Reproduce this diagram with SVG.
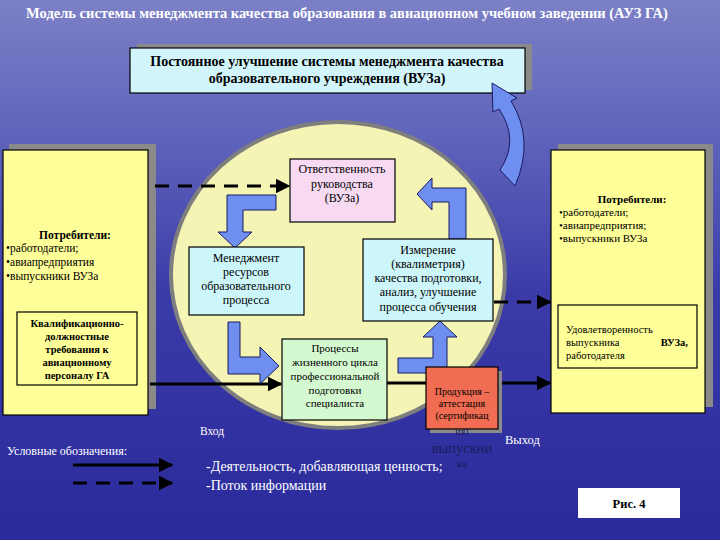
<svg xmlns="http://www.w3.org/2000/svg" width="720" height="540" viewBox="0 0 720 540" font-family="'Liberation Serif', 'DejaVu Serif', serif">
<defs>
<linearGradient id="bg" x1="0" y1="0" x2="0" y2="1">
<stop offset="0" stop-color="#7c80c6"/>
<stop offset="0.25" stop-color="#6064bb"/>
<stop offset="0.55" stop-color="#3a3aa8"/>
<stop offset="1" stop-color="#2a2a9c"/>
</linearGradient>
<marker id="ah" viewBox="0 0 10 10" refX="9" refY="5" markerWidth="5" markerHeight="5" orient="auto">
<path d="M0,0 L10,5 L0,10 z" fill="#000"/>
</marker>
<style>
text{font-family:'Liberation Serif','DejaVu Serif',serif;fill:#000}
.w{fill:#fff}
.b{font-weight:bold}
.box{stroke:#000;stroke-width:1.2}
.sh{fill:#8a8a8a}
.ba{fill:#6f8ff0;stroke:#1a1a60;stroke-width:1}
.c{text-anchor:middle}
.flow{stroke:#000;stroke-width:3;fill:none}
.info{stroke:#000;stroke-width:3;fill:none;stroke-dasharray:14 9}
.dk{fill:#1c1c5c}
</style>
</defs>
<rect width="720" height="540" fill="url(#bg)"/>
<text id="title" x="347" y="18" class="w c" font-size="14.5" font-weight="bold">Модель системы менеджмента качества образования в авиационном учебном заведении (АУЗ ГА)</text>

<g id="top-box">
<rect class="sh" x="137" y="44" width="395" height="46"/>
<rect class="box" x="130" y="48" width="395" height="45" fill="#d2f5fb"/>
<text x="327" y="66" class="c b" font-size="14">Постоянное улучшение системы менеджмента качества</text>
<text x="327" y="83" class="c b" font-size="14">образовательного учреждения (ВУЗа)</text>
</g>

<g id="left-box">
<rect class="sh" x="9" y="144" width="147" height="265"/>
<rect class="box" x="3" y="150" width="145" height="265" fill="#ffff99"/>
<text x="75" y="239" class="c b" font-size="11.5">Потребители:</text>
<text x="6" y="252" font-size="11.5">•работодатели;</text>
<text x="6" y="266" font-size="11.5">•авиапредприятия</text>
<text x="6" y="280" font-size="11.5">•выпускники ВУЗа</text>
<rect class="box" x="17" y="312" width="120" height="73" fill="#ffff99"/>
<text x="77" y="327" class="c b" font-size="10.5">Квалификационно-</text>
<text x="77" y="340" class="c b" font-size="10.5">должностные</text>
<text x="77" y="353" class="c b" font-size="10.5">требования к</text>
<text x="77" y="366" class="c b" font-size="10.5">авиационному</text>
<text x="77" y="379" class="c b" font-size="10.5">персоналу ГА</text>
</g>

<g id="right-box">
<rect class="sh" x="558" y="144" width="155" height="263"/>
<rect class="box" x="551" y="150" width="154" height="263" fill="#ffff99"/>
<text x="632" y="203" class="c b" font-size="11">Потребители:</text>
<text x="559" y="216" font-size="11">•работодатели;</text>
<text x="559" y="229" font-size="11">•авиапредприятия;</text>
<text x="559" y="242" font-size="11">•выпускники ВУЗа</text>
<rect class="box" x="558" y="305" width="139" height="63" fill="#ffff99"/>
<text x="566" y="333" font-size="10.5">Удовлетворенность</text>
<text x="566" y="346" font-size="10.5">выпускника</text>
<text x="688" y="346" font-size="10.5" text-anchor="end" font-weight="bold">ВУЗа,</text>
<text x="566" y="359" font-size="10.5">работодателя</text>
</g>

<g id="circle">
<ellipse cx="338" cy="275" rx="167" ry="153" fill="#f4f4b4" stroke="#7e7e7e" stroke-width="4"/>
</g>

<g id="connectors">
<line class="info" x1="155" y1="186" x2="289" y2="186" marker-end="url(#ah)"/>
<line class="flow" x1="150" y1="384" x2="281" y2="384" marker-end="url(#ah)"/>
<line class="flow" x1="387" y1="383" x2="426" y2="383"/>
<line class="flow" x1="498" y1="383" x2="550" y2="383" marker-end="url(#ah)"/>
<line class="info" x1="494" y1="302" x2="550" y2="302" marker-end="url(#ah)"/>
<line class="flow" x1="73" y1="465" x2="172" y2="465" marker-end="url(#ah)"/>
<line class="info" x1="73" y1="483" x2="172" y2="483" marker-end="url(#ah)"/>
<polygon class="ba" points="276,195 227,195 227,232 218,232 235,248 252,232 243,232 243,210 276,210"/>
<polygon class="ba" points="228,322 240,322 240,357 260,357 260,347 279,366 260,384 260,374 228,374"/>
<polygon class="ba" points="398,358 433,358 433,337 423,337 440,321 457,337 447,337 447,373 398,373"/>
<polygon class="ba" points="417,194 432,178 432,188 466,188 466,239 449,239 449,202 432,202 432,210"/>
<path class="ba" d="M 515,186 Q 535,140 511,101 L 517,98 L 492,83 L 493,112 L 499,109 Q 520,140 500,170 Z"/>
</g>

<g id="responsibility">
<rect class="box" x="290" y="159" width="105" height="63" fill="#f7d9f2"/>
<text x="342" y="173" class="c" font-size="12">Ответственность</text>
<text x="342" y="188" class="c" font-size="12">руководства</text>
<text x="342" y="202" class="c" font-size="12">(ВУЗа)</text>
</g>

<g id="resources">
<rect class="box" x="189" y="247" width="115" height="68" fill="#cdf6fb"/>
<text x="246" y="262" class="c" font-size="12">Менеджмент</text>
<text x="246" y="276" class="c" font-size="12">ресурсов</text>
<text x="246" y="290" class="c" font-size="12">образовательного</text>
<text x="246" y="304" class="c" font-size="12">процесса</text>
</g>

<g id="measurement">
<rect class="box" x="363" y="239" width="130" height="82" fill="#cdf6fb"/>
<text x="428" y="254" class="c" font-size="12">Измерение</text>
<text x="428" y="268" class="c" font-size="12">(квалиметрия)</text>
<text x="428" y="282" class="c" font-size="12">качества подготовки,</text>
<text x="428" y="296" class="c" font-size="12">анализ, улучшение</text>
<text x="428" y="311" class="c" font-size="12">процесса обучения</text>
</g>

<g id="lifecycle">
<rect class="box" x="282" y="339" width="105" height="81" fill="#d4f8d0"/>
<text x="335" y="352" class="c" font-size="11">Процессы</text>
<text x="335" y="366" class="c" font-size="11">жизненного цикла</text>
<text x="335" y="380" class="c" font-size="11">профессиональной</text>
<text x="335" y="394" class="c" font-size="11">подготовки</text>
<text x="335" y="407" class="c" font-size="11">специалиста</text>
</g>

<g id="product">
<rect class="sh" x="430" y="371" width="72" height="62"/>
<rect class="box" x="426" y="367" width="72" height="62" fill="#f06c52"/>
<text x="462" y="395" class="c" font-size="10">Продукция –</text>
<text x="462" y="407" class="c" font-size="10">аттестация</text>
<text x="462" y="419" class="c" font-size="10">(сертификац</text>
<text x="462" y="435" class="c dk" font-size="10">ия)</text>
<text x="462" y="453" class="c dk" font-size="14.5">выпускни</text>
<text x="462" y="467" class="c dk" font-size="11">ка</text>
</g>

<g id="labels">
<text x="200" y="435" class="w" font-size="11.5">Вход</text>
<text x="505" y="444" class="w" font-size="12.5">Выход</text>
<text x="7" y="455" class="w" font-size="12">Условные обозначения:</text>
<text x="206" y="471" class="w" font-size="14">-Деятельность, добавляющая ценность;</text>
<text x="206" y="490" class="w" font-size="14">-Поток информации</text>
</g>

<g id="fig">
<rect x="578" y="488" width="102" height="30" fill="#fff"/>
<text x="629" y="508" class="c b" font-size="12.5">Рис. 4</text>
</g>
</svg>
